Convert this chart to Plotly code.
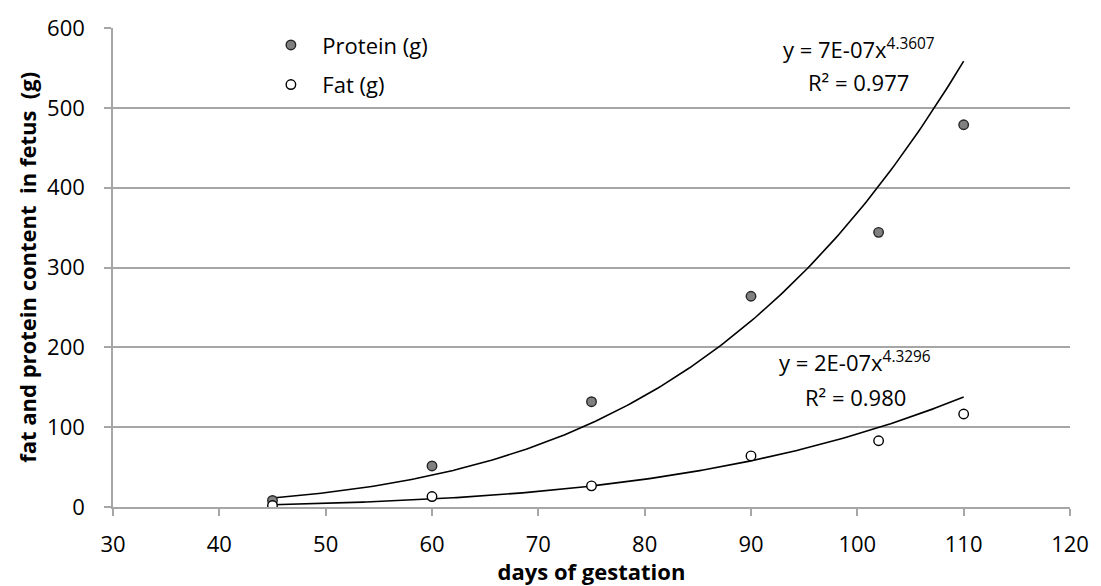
import numpy as np
import plotly.graph_objects as go

# Days of gestation and measured fetal composition
days = [45, 60, 75, 90, 102, 110]
protein_g = [8.2, 51.4, 131.9, 264, 344, 478.8]
fat_g = [1.8, 13.1, 26.5, 64, 83, 116.5]

# Power-law trend parameters (y = a * x^b)
protein_fit = {"a": 7e-07, "b": 4.3607, "r2": "0.977"}
fat_fit = {"a": 2e-07, "b": 4.3296, "r2": "0.980"}

x_ticks = [30, 40, 50, 60, 70, 80, 90, 100, 110, 120]
y_ticks = [0, 100, 200, 300, 400, 500, 600]

FONT = "Open Sans, Liberation Sans, sans-serif"
FS = 22
GRID = "#a6a6a6"
NBSP = "\u00a0"

xs = np.linspace(min(days), max(days), 200)

fig = go.Figure()

for fit in (protein_fit, fat_fit):
    fig.add_trace(go.Scatter(
        x=xs, y=fit["a"] * xs ** fit["b"], mode="lines",
        line=dict(color="black", width=1.6), showlegend=False, hoverinfo="skip",
    ))

fig.add_trace(go.Scatter(
    x=days, y=protein_g, mode="markers", name=NBSP * 2 + "Protein (g)", legendgroup="p",
    marker=dict(size=9.5, color="#808080", line=dict(color="#262626", width=1.4)),
))
fig.add_trace(go.Scatter(
    x=days, y=fat_g, mode="markers", name=NBSP * 2 + "Fat (g)", legendgroup="f",
    marker=dict(size=9.5, color="white", line=dict(color="black", width=1.4)),
))


def eq_text(fit):
    coef = "%.0E" % fit["a"]
    return "y = %sx<sup>%s</sup>" % (coef, fit["b"])


annotations = [
    dict(x=100.15, y=574.6, text=eq_text(protein_fit)),
    dict(x=100.15, y=532, text="R² = " + protein_fit["r2"]),
    dict(x=99.8, y=182.3, text=eq_text(fat_fit)),
    dict(x=99.8, y=137.2, text="R² = " + fat_fit["r2"]),
]
for a in annotations:
    a.update(xref="x", yref="y", showarrow=False, xanchor="center", yanchor="middle",
             font=dict(family=FONT, size=FS, color="black"))

# vertical axis title, placed at the far left edge
annotations.append(dict(
    xref="paper", yref="paper", x=-0.0906, y=0.5, xanchor="center", yanchor="middle",
    showarrow=False, textangle=-90,
    text="<b>fat and protein content  in fetus  (g)</b>",
    font=dict(family=FONT, size=FS, color="black"),
))

fig.update_layout(
    width=1101, height=586,
    margin=dict(l=113, r=28, t=20, b=76),
    paper_bgcolor="white", plot_bgcolor="white",
    font=dict(family=FONT, size=FS, color="black"),
    annotations=annotations,
    legend=dict(
        x=0.165, y=1.008, xanchor="left", yanchor="top",
        bgcolor="rgba(0,0,0,0)", traceorder="grouped", tracegroupgap=8,
        font=dict(family=FONT, size=FS, color="black"),
    ),
    xaxis=dict(
        range=[30, 120], tickvals=x_ticks, ticks="outside", ticklen=7, tickcolor=GRID,
        tickwidth=1.5, showline=True, linecolor=GRID, linewidth=1.5, showgrid=False,
        zeroline=False, tickfont=dict(size=FS), ticklabelstandoff=10,
        title=dict(text="<b>days of gestation</b>", standoff=0, font=dict(size=FS)),
    ),
    yaxis=dict(
        range=[0, 600], tickvals=y_ticks, ticks="outside", ticklen=7, tickcolor=GRID,
        tickwidth=1.5, showline=True, linecolor=GRID, linewidth=1.5, showgrid=True,
        gridcolor=GRID, gridwidth=1.5, zeroline=False, tickfont=dict(size=FS),
        ticklabelstandoff=15,
    ),
)

fig.write_html("out.html")
